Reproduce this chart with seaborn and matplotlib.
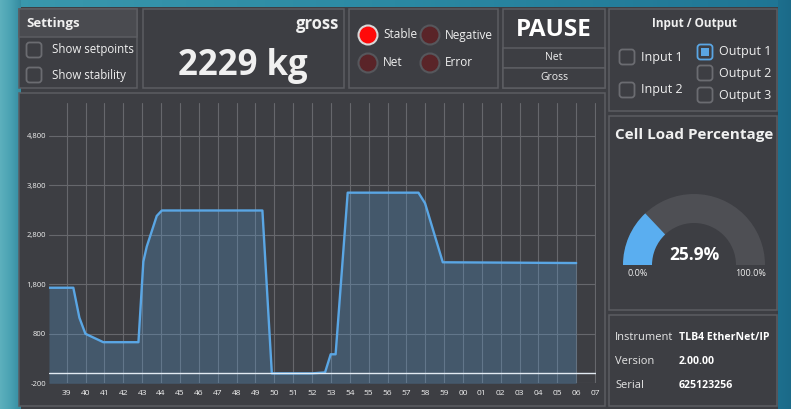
import matplotlib
matplotlib.use("Agg")
import matplotlib.pyplot as plt
import numpy as np
import pandas as pd
import seaborn as sns
from matplotlib.patches import Rectangle, FancyBboxPatch, Circle, Wedge
from matplotlib.ticker import FixedLocator, FuncFormatter

# --- data ---
minutes = [38.06, 39.35, 39.67, 39.99, 40.94, 42.80, 43.06, 43.24, 43.77, 44.04,
           49.37, 49.87, 52.00, 52.69, 52.99, 53.25, 53.89, 57.64, 57.99, 58.93, 66.00]
weight_kg = [1730, 1730, 1125, 800, 630, 630, 2257, 2560, 3180, 3290,
             3290, 0, 0, 20, 386, 386, 3650, 3650, 3436, 2244, 2229]
y_ticks = [-200, 800, 1800, 2800, 3800, 4800]
x_ticks = list(range(39, 68))
gauge_pct = 25.9
current_weight = "2229 kg"
info_labels = ["Instrument", "Version", "Serial"]
info_values = ["TLB4 EtherNet/IP", "2.00.00", "625123256"]

BG = "#3d3e43"
HEADER = "#4a4b50"
BORDER = "#5c5d62"
TEXT = "#f0f0f0"
BLUE = "#5aa6e4"

sns.set_theme(style="dark")
plt.rcParams["font.family"] = ["Open Sans", "DejaVu Sans"]

W, H = 791, 409
fig = plt.figure(figsize=(W / 100, H / 100), dpi=100, facecolor="#23809c")

bg = fig.add_axes([0, 0, 1, 1], zorder=0)
bg.set_xlim(0, W)
bg.set_ylim(H, 0)
bg.axis("off")

# desktop behind the window
grad = np.linspace(0, 1, 200).reshape(1, -1)
bg.imshow(grad, extent=[0, W, 0, 8], cmap=matplotlib.colors.LinearSegmentedColormap.from_list(
    "top", ["#3a98ad", "#2b89a3", "#1f7594"]), aspect="auto", zorder=0)
bg.imshow(grad, extent=[0, 21, 0, H], cmap=matplotlib.colors.LinearSegmentedColormap.from_list(
    "left", ["#5db0bd", "#4aa2b3", "#358ba0"]), aspect="auto", zorder=0)
bg.imshow(grad, extent=[778, W, 0, H], cmap=matplotlib.colors.LinearSegmentedColormap.from_list(
    "right", ["#1d6f8e", "#1b6a88"]), aspect="auto", zorder=0)
bg.set_xlim(0, W)
bg.set_ylim(H, 0)

bg.add_patch(Rectangle((21, 7), 757, H - 7, fc=BG, ec="none", zorder=1))


def box(x0, y0, x1, y1, fc=BG):
    bg.add_patch(Rectangle((x0, y0), x1 - x0, y1 - y0, fc=fc, ec=BORDER, lw=1.1, zorder=2))


def checkbox(cx, cy, checked=False):
    ec = BLUE if checked else "#6b6c71"
    bg.add_patch(FancyBboxPatch((cx - 7.5, cy - 7.5), 15, 15,
                                boxstyle="round,pad=0,rounding_size=3",
                                fc=BG, ec=ec, lw=1.3, zorder=3))
    if checked:
        bg.add_patch(Rectangle((cx - 4, cy - 4), 8, 8, fc=BLUE, ec="none", zorder=4))


# settings
box(19, 9, 137, 88)
box(19, 9, 137, 37, fc=HEADER)
bg.text(26, 24, "Settings", color=TEXT, fontsize=9.5, fontweight="bold", va="center", zorder=5)
checkbox(34, 50)
checkbox(34, 75)
bg.text(52, 50, "Show setpoints", color=TEXT, fontsize=8.3, va="center", zorder=5)
bg.text(52, 75, "Show stability", color=TEXT, fontsize=8.3, va="center", zorder=5)

# weight display
box(143, 9, 344, 88)
bg.text(339, 24, "gross", color=TEXT, fontsize=12, fontweight="bold", ha="right", va="center", zorder=5)
bg.text(243, 66, current_weight, color=TEXT, fontsize=25, fontweight="bold", ha="center", va="center", zorder=5)

# status LEDs
box(349, 9, 498, 88)
leds = [("Stable", 368, 35, True), ("Negative", 430, 35, False),
        ("Net", 368, 63, False), ("Error", 430, 63, False)]
for name, cx, cy, on in leds:
    bg.add_patch(Circle((cx, cy), 9.5, fc="#ff0a0a" if on else "#5a2428",
                        ec="#d8d8d8" if on else "#56575c", lw=1.5, zorder=3))
    bg.text(cx + 15, cy, name, color=TEXT, fontsize=8.5, va="center", zorder=5)

# pause / net / gross
box(503, 9, 605, 88)
box(503, 48, 605, 68)
box(503, 68, 605, 88)
bg.text(554, 30, "PAUSE", color="white", fontsize=17.5, fontweight="bold", ha="center", va="center", zorder=5)
bg.text(554, 58, "Net", color=TEXT, fontsize=7.5, ha="center", va="center", zorder=5)
bg.text(554, 78, "Gross", color=TEXT, fontsize=7.5, ha="center", va="center", zorder=5)

# input / output
box(609, 9, 777, 111)
bg.text(694, 24, "Input / Output", color=TEXT, fontsize=8.5, fontweight="bold", ha="center", va="center", zorder=5)
for label, cx, cy, chk in [("Input 1", 627, 57, False), ("Input 2", 627, 90, False),
                           ("Output 1", 705, 52, True), ("Output 2", 705, 73, False),
                           ("Output 3", 705, 95, False)]:
    checkbox(cx, cy, chk)
    bg.text(cx + 14, cy, label, color=TEXT, fontsize=9, va="center", zorder=5)

# cell load gauge
box(609, 116, 777, 310)
bg.text(694, 135, "Cell Load Percentage", color=TEXT, fontsize=11, fontweight="bold", ha="center", va="center", zorder=5)
gx, gy, r_out, thick = 694, 265, 71, 29
bg.add_patch(Wedge((gx, gy), r_out, 180, 360, width=thick, fc="#4e4f54", ec="none", zorder=3))
bg.add_patch(Wedge((gx, gy), r_out, 180, 180 + 180 * gauge_pct / 100, width=thick, fc="#5aaef0", ec="none", zorder=4))
bg.text(gx, 255, f"{gauge_pct:.1f}%", color="white", fontsize=12.5, fontweight="bold", ha="center", va="center", zorder=5)
bg.text(gx - (r_out - thick / 2), 273, "0.0%", color=TEXT, fontsize=6.5, ha="center", va="center", zorder=5)
bg.text(gx + (r_out - thick / 2), 273, "100.0%", color=TEXT, fontsize=6.5, ha="center", va="center", zorder=5)

# instrument info
box(609, 315, 777, 406)
for i, (lab, val) in enumerate(zip(info_labels, info_values)):
    yy = 338 + i * 23.5
    bg.text(615, yy, lab, color="#e6e6e6", fontsize=8, va="center", zorder=5)
    bg.text(679, yy, val, color="white", fontsize=7.6, fontweight="bold", va="center", zorder=5)

# chart panel
box(19, 93, 605, 406)

# --- weight chart ---
df = pd.DataFrame({"minute": minutes, "weight": weight_kg})
x0_px, x1_px, yb_px, yt_px = 49, 596, 383.3, 103.3
ax = fig.add_axes([x0_px / W, 1 - yb_px / H, (x1_px - x0_px) / W, (yb_px - yt_px) / H], zorder=3)
ax.set_facecolor("none")
ax.set_axisbelow(True)
ax.fill_between(df["minute"], df["weight"], -200, color=BLUE, alpha=0.25, lw=0)
sns.lineplot(data=df, x="minute", y="weight", color=BLUE, lw=1.7, ax=ax)
ax.axhline(0, color="#e2eaf2", lw=1.0, zorder=4)
ax.set_xlim(38.06, 67.05)
ax.set_ylim(-200, 5455)
ax.xaxis.set_major_locator(FixedLocator(x_ticks))
ax.xaxis.set_major_formatter(FuncFormatter(lambda v, p: f"{int(round(v)) % 60:02d}"))
ax.yaxis.set_major_locator(FixedLocator(y_ticks))
ax.yaxis.set_major_formatter(FuncFormatter(lambda v, p: f"{int(v):,}"))
ax.grid(True, color="#66676c", lw=0.8)
for s in ax.spines.values():
    s.set_visible(False)
ax.tick_params(axis="x", colors=TEXT, labelsize=6, length=0, pad=5)
ax.tick_params(axis="y", colors=TEXT, labelsize=5.5, length=0, pad=2)
ax.set_xlabel("")
ax.set_ylabel("")

fig.savefig("out.png", dpi=100, facecolor=fig.get_facecolor())
